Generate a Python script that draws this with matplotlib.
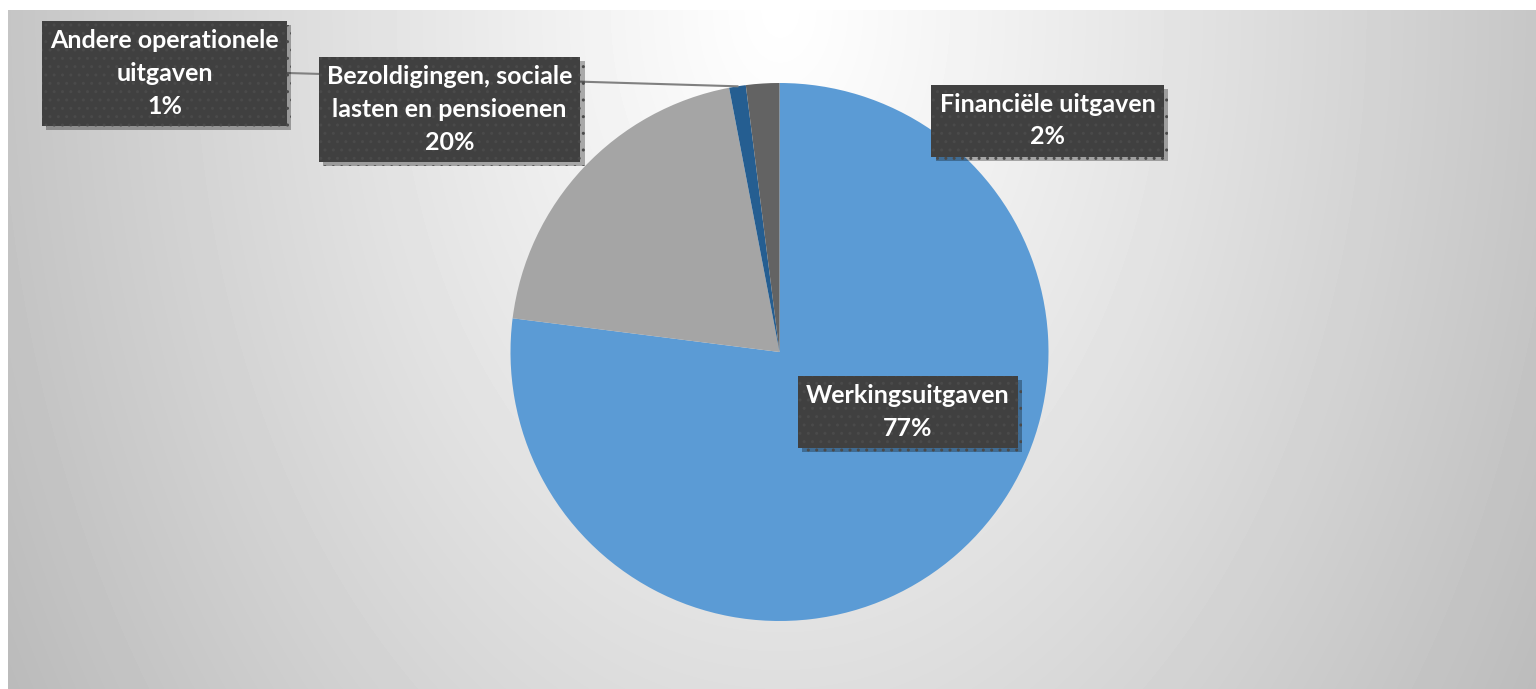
import numpy as np
import matplotlib.pyplot as plt
import matplotlib.patheffects as pe

# data
labels = ["Werkingsuitgaven", "Bezoldigingen, sociale\nlasten en pensioenen",
          "Andere operationele\nuitgaven", "Financiële uitgaven"]
values = [77, 20, 1, 2]
pct_text = ["77%", "20%", "1%", "2%"]
colors = ["#5B9BD5", "#A5A5A5", "#255E91", "#636363"]

W, H = 1536, 689
fig = plt.figure(figsize=(W / 100, H / 100), dpi=100, facecolor="white")
ax = fig.add_axes([0, 0, 1, 1])

# background: radial grey gradient, light at the top middle
xx, yy = np.meshgrid(np.arange(8, W), np.arange(0, H - 10))
d = np.sqrt(((xx - 780) / 780.0) ** 2 + ((H - 10 - yy) / 1150.0) ** 2)
shade = np.clip(1.0 - 0.23 * d ** 1.1, 0, 1)
ax.imshow(shade, cmap="gray", vmin=0, vmax=1, extent=(8, W, 0, H - 10),
          origin="lower", zorder=0, interpolation="bilinear")

cx, cy, r = 779.5, H - 352, 269
wedges, _ = ax.pie(values, colors=colors, startangle=90, counterclock=False,
                   center=(cx, cy), radius=r, wedgeprops=dict(linewidth=0))
for w in wedges:
    w.set_zorder(2)

ax.set_xlim(0, W)
ax.set_ylim(0, H)
ax.set_aspect("auto")
ax.axis("off")

# label positions (pixel centres)
label_pos = [(908, H - 412), (449.5, H - 109.5), (164.5, H - 73.5), (1047.5, H - 120.5)]

# leader line for the small slice
w = wedges[2]
mid = np.radians((w.theta1 + w.theta2) / 2)
ax.plot([288, cx + r * np.cos(mid)], [H - 73, cy + r * np.sin(mid)],
        color="#808080", lw=1.5, zorder=3)

for lab, p, pos in zip(labels, pct_text, label_pos):
    t = ax.text(pos[0], pos[1], lab + "\n" + p, ha="center", va="center",
                fontsize=18, fontweight="bold", family=["Lato", "DejaVu Sans"],
                color="white", linespacing=1.5, zorder=5,
                bbox=dict(boxstyle="square,pad=0.33", facecolor="#404040",
                          edgecolor="#4a4a4a", hatch="..", linewidth=0))
    t.get_bbox_patch().set_path_effects([
        pe.SimplePatchShadow(offset=(3, -3), shadow_rgbFace="black", alpha=0.3),
        pe.Normal()])

fig.savefig("out.png", dpi=100, facecolor="white")
